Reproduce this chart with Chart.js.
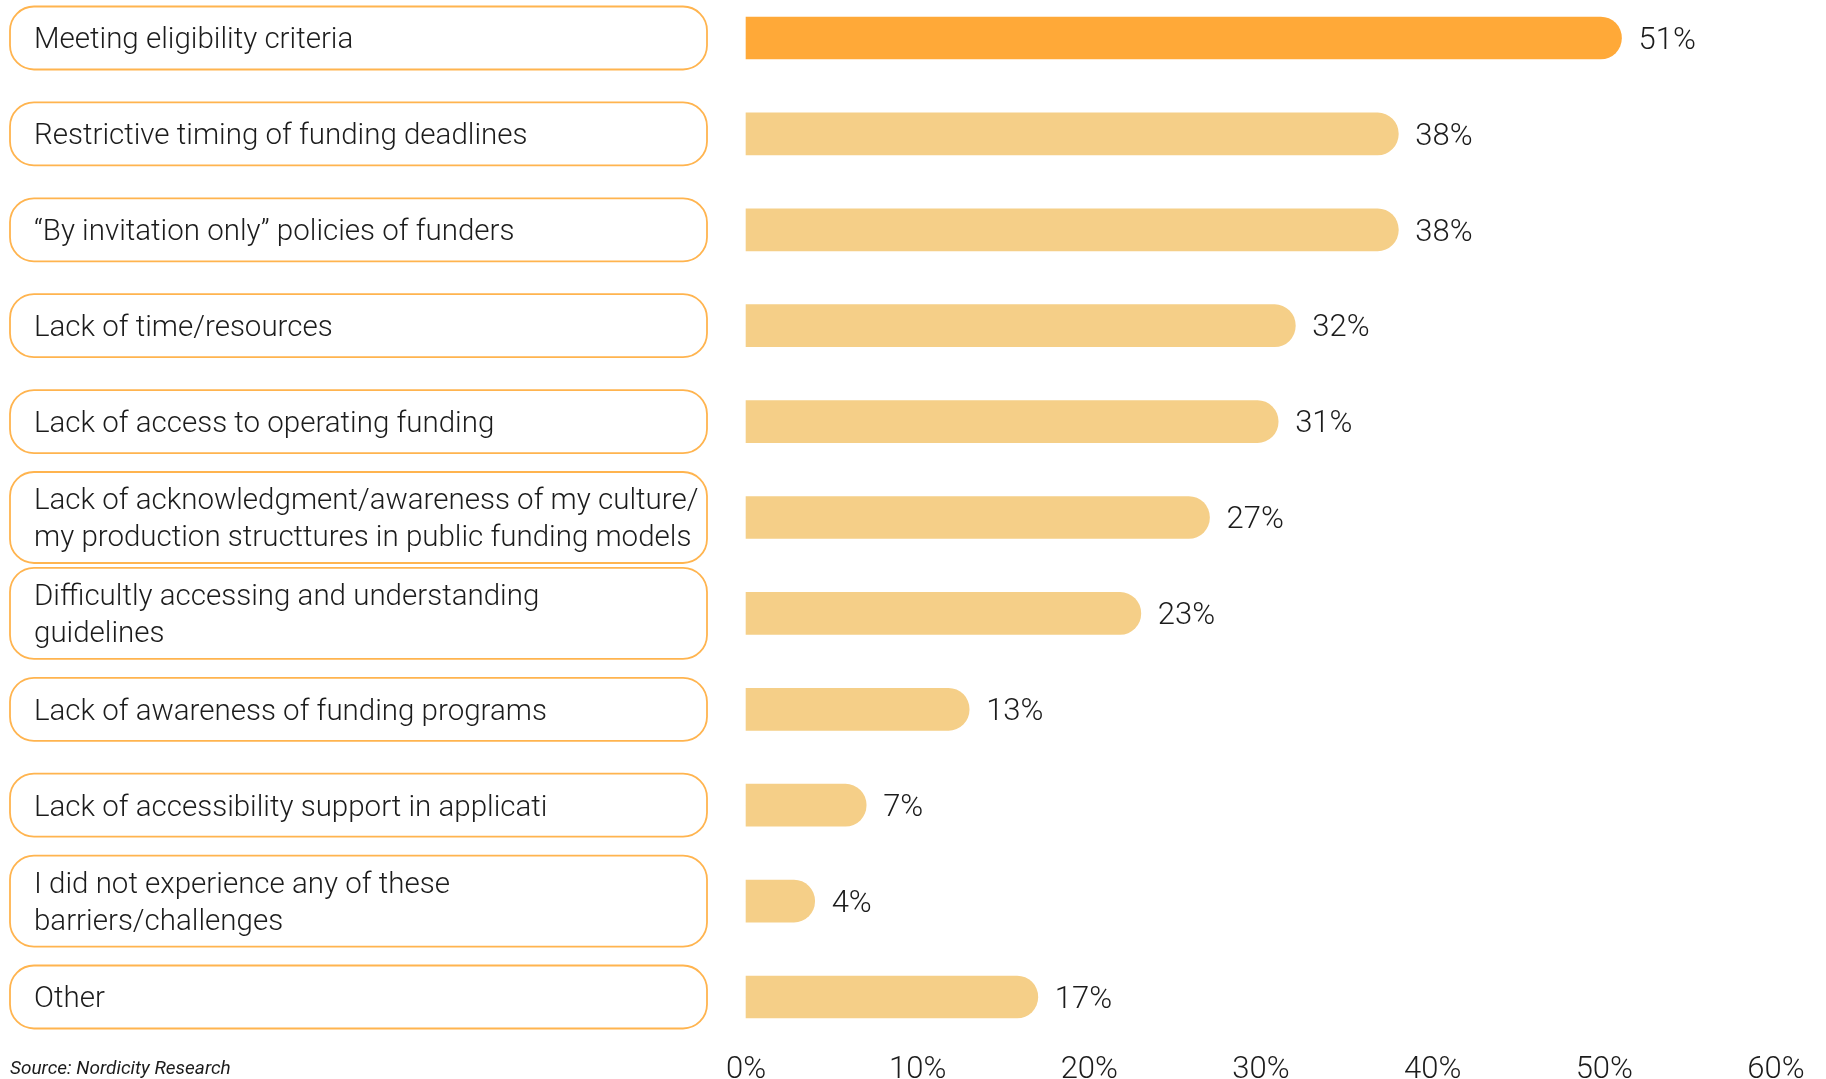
<!DOCTYPE html>
<html>
<head>
<meta charset="utf-8">
<script src="https://cdn.jsdelivr.net/npm/chart.js@4.4.1/dist/chart.umd.min.js"></script>
<style>
    html, body { margin: 0; padding: 0; background: #ffffff; }
</style>
</head>
<body>
<canvas id="barriersChart" width="1826" height="1079"></canvas>
<script>
// Категории (многострочные подписи - массивами)
const categories = [
    ["Meeting eligibility criteria"],
    ["Restrictive timing of funding deadlines"],
    ["\u201CBy invitation only\u201D policies of funders"],
    ["Lack of time/resources"],
    ["Lack of access to operating funding"],
    ["Lack of acknowledgment/awareness of my culture/", "my production structtures in public funding models"],
    ["Difficultly accessing and understanding", "guidelines"],
    ["Lack of awareness of funding programs"],
    ["Lack of accessibility support in applicati"],
    ["I did not experience any of these", "barriers/challenges"],
    ["Other"]
];
const percentValues = [51, 38, 38, 32, 31, 27, 23, 13, 7, 4, 17];
const xTickValues = [0, 10, 20, 30, 40, 50, 60];
const sourceNote = "Source: Nordicity Research";

const HIGHLIGHT = '#FFA938';
const BAR_COLOR = '#F5CF88';
const BOX_BORDER = '#FFB44F';
const TEXT_COLOR = '#1c1c1c';
const FONT = 'Roboto, "Noto Sans", sans-serif';

// Рамки с подписями слева, проценты у баров и источник
const labelBoxes = {
    id: 'labelBoxes',
    afterDraw(chart) {
        const ctx = chart.ctx;
        const yScale = chart.scales.y;
        ctx.save();
        ctx.fillStyle = TEXT_COLOR;
        ctx.textBaseline = 'middle';
        ctx.font = '300 29.5px ' + FONT;

        categories.forEach((lines, i) => {
            const cy = yScale.getPixelForValue(i);
            const h = 63 + (lines.length - 1) * 28;
            ctx.beginPath();
            ctx.roundRect(10, cy - h / 2, 697, h, 24);
            ctx.lineWidth = 1.8;
            ctx.strokeStyle = BOX_BORDER;
            ctx.stroke();
            lines.forEach((line, j) => {
                ctx.fillText(line, 34, cy + 3 + (j - (lines.length - 1) / 2) * 37);
            });
        });

        // Значения справа от баров
        ctx.font = '300 31px ' + FONT;
        const meta = chart.getDatasetMeta(0);
        meta.data.forEach((bar, i) => {
            ctx.fillText(percentValues[i] + '%', bar.x + 17, bar.y + 3);
        });

        ctx.font = 'italic 19px ' + FONT;
        ctx.fillText(sourceNote, 10, 1069);
        ctx.restore();
    }
};

new Chart(document.getElementById('barriersChart'), {
    type: 'bar',
    data: {
        labels: categories,
        datasets: [{
            data: percentValues,
            backgroundColor: percentValues.map((v, i) => i === 0 ? HIGHLIGHT : BAR_COLOR),
            barThickness: 42,
            borderRadius: 21,
            borderSkipped: 'start',
            clip: false
        }]
    },
    options: {
        indexAxis: 'y',
        responsive: false,
        animation: false,
        layout: { padding: { top: 38, right: 50, bottom: 0, left: 0 } },
        plugins: {
            legend: { display: false },
            tooltip: { enabled: false }
        },
        scales: {
            y: {
                type: 'category',
                offset: false,
                grid: { display: false, drawTicks: false },
                border: { display: false },
                ticks: { display: false },
                afterFit(scale) { scale.width = 746; }
            },
            x: {
                min: 0,
                max: 60,
                // засечки не рисуются, но tickLength сдвигает подписи вниз
                grid: { display: false, drawTicks: true, tickLength: 53 },
                border: { display: false },
                afterBuildTicks(scale) {
                    scale.ticks = xTickValues.map(v => ({ value: v }));
                },
                afterFit(scale) { scale.height = 82; },
                ticks: {
                    padding: 2,
                    color: TEXT_COLOR,
                    font: { family: FONT, size: 31, weight: 300 },
                    maxRotation: 0,
                    callback: v => v + '%'
                }
            }
        }
    },
    plugins: [labelBoxes]
});
</script>
</body>
</html>
